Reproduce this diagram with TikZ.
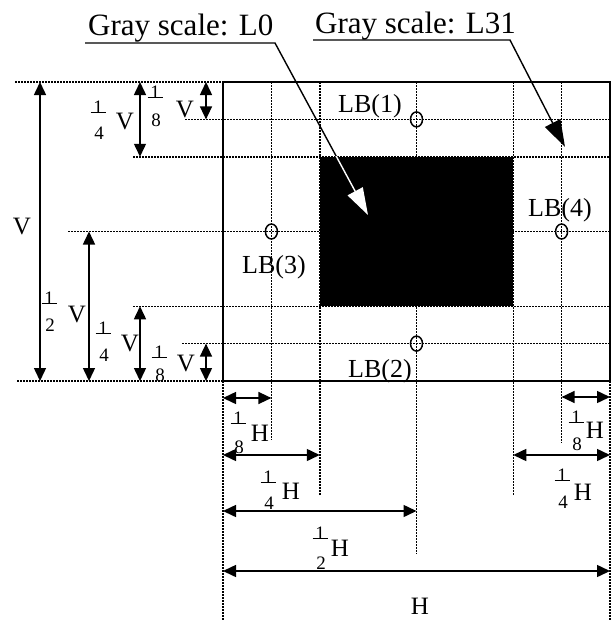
\documentclass[tikz,border=0pt]{standalone}
\usepackage{fontspec}
\setmainfont{Liberation Serif}
\usetikzlibrary{arrows.meta}
\newcommand\myfrac[5]{% name, x, y(num), y(den), den
  \node[dig] (#1n) at (#2,#3) {1};
  \draw[line width=1pt] (#2-7.5,#3+5) -- (#2+7.5,#3+5);
  \node[dig] (#1d) at (#2+1,#4) {#5};}
\begin{document}
\begin{tikzpicture}[x=1pt,y=-1pt,
  gridl/.style={line width=1.5pt, dash pattern=on 1.5pt off 1.5pt},
  dimarrow/.style={line width=1.5pt, {Triangle[length=13pt,width=12pt]}-{Triangle[length=13pt,width=12pt]}},
  ptr/.style={line width=1.4pt, -{Triangle[length=27pt,width=17pt]}},
  lbl/.style={font=\fontsize{25}{25}\selectfont, inner sep=0pt},
  dig/.style={font=\fontsize{19}{19}\selectfont, inner sep=0pt},
  lbtext/.style={font=\fontsize{26}{26}\selectfont, inner sep=0pt},
  ttl/.style={font=\fontsize{31}{31}\selectfont, inner sep=0pt, anchor=base west},
  lbmark/.style={line width=1.5pt}]
\useasboundingbox (0,0) rectangle (614,621);
% ---- grid lines (dotted)
\draw[gridl] (15,82) -- (223,82);
\draw[gridl] (17,381) -- (223,381);
\draw[gridl] (185,119.4) -- (610,119.4);
\draw[gridl] (133,156.75) -- (610,156.75);
\draw[gridl] (68,231.5) -- (610,231.5);
\draw[gridl] (133,306.25) -- (610,306.25);
\draw[gridl] (182,343.6) -- (610,343.6);
\draw[gridl] (223,381) -- (223,621);
\draw[gridl] (271.4,82) -- (271.4,440);
\draw[gridl] (319.75,82) -- (319.75,496);
\draw[gridl] (416.5,82) -- (416.5,554);
\draw[gridl] (513.25,82) -- (513.25,495);
\draw[gridl] (561.6,82) -- (561.6,443);
\draw[gridl] (610,381) -- (610,621);
% ---- main frame and black area
\draw[line width=1.6pt] (223,82) rectangle (610,381);
\fill[black] (319.75,156.75) rectangle (513.25,306.25);
% ---- vertical dimension arrows
\coordinate (a1t) at (40,82);  \coordinate (a1b) at (40,381);
\coordinate (a2t) at (89,231.5); \coordinate (a2b) at (89,381);
\coordinate (a3t) at (140,82); \coordinate (a3b) at (140,156.75);
\coordinate (a4t) at (140,306.25); \coordinate (a4b) at (140,381);
\coordinate (a5t) at (206,82); \coordinate (a5b) at (206,119.4);
\coordinate (a6t) at (206,343.6); \coordinate (a6b) at (206,381);
\draw[dimarrow] (a1t) -- (a1b);
\draw[dimarrow] (a2t) -- (a2b);
\draw[dimarrow] (a3t) -- (a3b);
\draw[dimarrow] (a4t) -- (a4b);
\draw[dimarrow] (a5t) -- (a5b);
\draw[dimarrow] (a6t) -- (a6b);
% ---- horizontal dimension arrows
\coordinate (h1l) at (223,398); \coordinate (h1r) at (271.4,398);
\coordinate (h2l) at (561.6,397); \coordinate (h2r) at (610,397);
\coordinate (h3l) at (223,455); \coordinate (h3r) at (319.75,455);
\coordinate (h4l) at (513.25,455); \coordinate (h4r) at (610,455);
\coordinate (h5l) at (223,511); \coordinate (h5r) at (416.5,511);
\coordinate (h6l) at (223,571); \coordinate (h6r) at (610,571);
\draw[dimarrow] (h1l) -- (h1r);
\draw[dimarrow] (h2l) -- (h2r);
\draw[dimarrow] (h3l) -- (h3r);
\draw[dimarrow] (h4l) -- (h4r);
\draw[dimarrow] (h5l) -- (h5r);
\draw[dimarrow] (h6l) -- (h6r);
% ---- vertical labels
\node[lbl] (vfull) at (22,227) {V};
\myfrac{fa}{49}{298}{325}{2} \node[lbl] (va) at (77,315) {V};
\myfrac{fb}{98}{107}{133}{4} \node[lbl] (vb) at (125,122) {V};
\myfrac{fc}{103}{328}{355}{4} \node[lbl] (vc) at (130,343) {V};
\myfrac{fd}{155}{92}{120}{8} \node[lbl] (vd) at (185,110) {V};
\myfrac{fe}{159}{352}{375}{8} \node[lbl] (ve) at (186,363) {V};
% ---- horizontal labels
\myfrac{ga}{238}{418}{447}{8} \node[lbl] (ha) at (260,433) {H};
\myfrac{gb}{576}{417}{444}{8} \node[lbl] (hb) at (595,430) {H};
\myfrac{gc}{268}{477}{503}{4} \node[lbl] (hc) at (291,491) {H};
\myfrac{gd}{562}{475}{502}{4} \node[lbl] (hd) at (583,492) {H};
\myfrac{ge}{320}{533}{563}{2} \node[lbl] (he) at (340,548) {H};
\node[lbl] (hfull) at (420,606) {H};
% ---- LB markers
\draw[lbmark] (416.5,119.4) ellipse [x radius=6pt, y radius=7.5pt];
\draw[lbmark] (416.5,343.6) ellipse [x radius=6pt, y radius=7.5pt];
\draw[lbmark] (271.4,231.5) ellipse [x radius=6pt, y radius=7.5pt];
\draw[lbmark] (561.6,231.5) ellipse [x radius=6pt, y radius=7.5pt];
\node[lbtext] (lb1) at (370,106) {LB(1)};
\node[lbtext] (lb2) at (380,371) {LB(2)};
\node[lbtext] (lb3) at (274,267) {LB(3)};
\node[lbtext] (lb4) at (560,210) {LB(4)};
% ---- titles and pointers
\node[ttl] (t0) at (88,35) {Gray scale: L0};
\node[ttl] (t31) at (315,33) {Gray scale: L31};
\coordinate (u0a) at (85,43); \coordinate (u0b) at (275,43);
\coordinate (p0) at (368,215);
\coordinate (u31a) at (313,40); \coordinate (u31b) at (510,40);
\coordinate (p31) at (565,147);
\draw[ptr] (u0a) -- (u0b) -- (p0);
\begin{scope}
  \clip (319.75,156.75) rectangle (513.25,306.25);
  \draw[ptr, white] (u0a) -- (u0b) -- (p0);
\end{scope}
\draw[ptr] (u31a) -- (u31b) -- (p31);
\end{tikzpicture}
\end{document}
